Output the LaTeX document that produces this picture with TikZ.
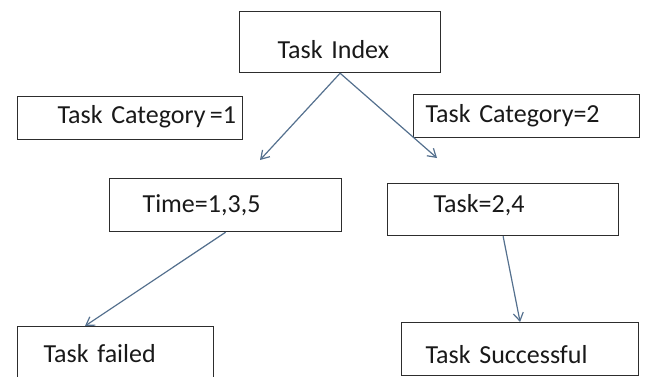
\documentclass[tikz,border=0pt]{standalone}
\usepackage{fontspec}
\setmainfont{Carlito}
\usetikzlibrary{arrows.meta}

\definecolor{arrowblue}{RGB}{84,112,142}
\definecolor{boxgray}{RGB}{45,45,45}

\begin{document}
\begin{tikzpicture}[x=0.5pt, y=-0.5pt,
  box/.style={draw=boxgray, line width=0.6pt, rectangle, anchor=north west,
    inner sep=0pt, align=left, text=black!90,
    font=\fontsize{13}{15}\selectfont},
  arr/.style={draw=arrowblue, line width=0.6pt,
    -{Straight Barb[length=4pt,width=5pt]}}]

\useasboundingbox (0,0) rectangle (646,376);

% Top box
\node[box, text width=100.5pt, text height=23.5pt, text depth=7pt] (idx) at (239,11)
  {\noindent\hspace*{19pt}\mbox{Task Index}};

% Category boxes
\node[box, text width=112.5pt, text height=13.5pt, text depth=8pt] (cat1) at (17,96)
  {\noindent\hspace*{20pt}\mbox{Task Category\,=1}};
\node[box, text width=113pt, text height=14pt, text depth=7.5pt] (cat2) at (413,94)
  {\noindent\hspace*{6pt}\mbox{Task Category=2}};

% Middle boxes
\node[box, text width=116pt, text height=17pt, text depth=9.5pt] (time) at (109,178)
  {\noindent\hspace*{16.5pt}\mbox{Time=1,3,5}};
\node[box, text width=115.5pt, text height=14.5pt, text depth=11.5pt] (task) at (387,183)
  {\noindent\hspace*{23pt}\mbox{Task=2,4}};

% Result boxes
\node[box, text width=98pt, text height=18pt, text depth=9pt] (fail) at (17,326)
  {\noindent\hspace*{13pt}\mbox{Task failed}};
\node[box, text width=118.5pt, text height=20.5pt, text depth=6pt] (succ) at (401,322)
  {\noindent\hspace*{12pt}\mbox{Task Successful}};

% Free ends of the top arrows
\coordinate (lend) at (260,160);
\coordinate (rend) at (437,158);

% Arrows
\draw[arr] (idx.south) -- (lend);
\draw[arr] (idx.south) -- (rend);
\draw[arr] (time.south) -- ([xshift=34pt]fail.north west);
\draw[arr] (task.south) -- (succ.north);

\end{tikzpicture}
\end{document}
